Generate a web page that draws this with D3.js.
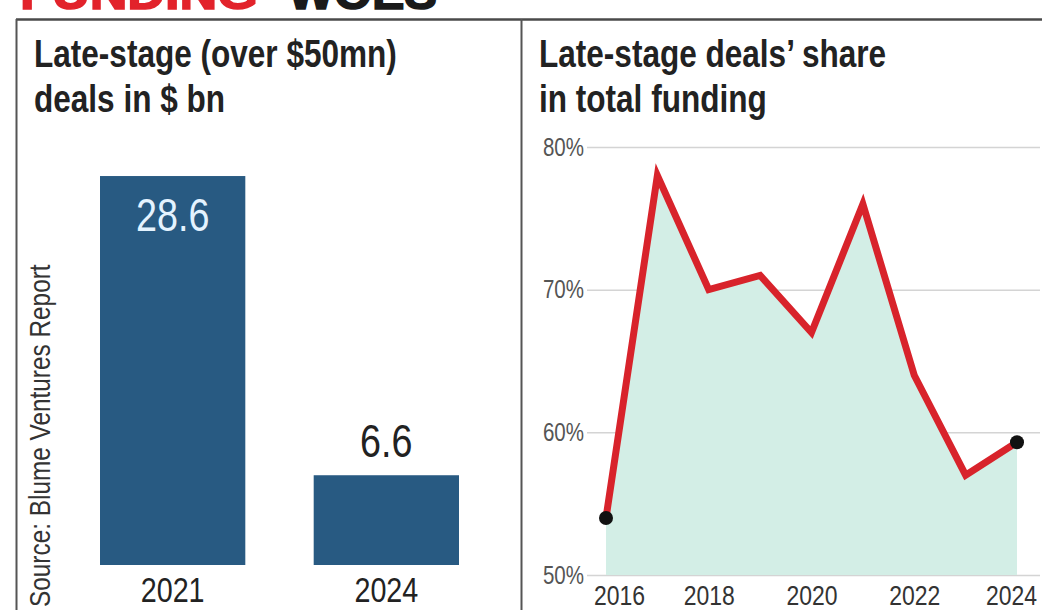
<!DOCTYPE html>
<meta charset="utf-8">
<style>
  body { margin: 0; background: #fff; }
  text { font-family: "Liberation Sans", Arial, sans-serif; }
  .title { font-weight: bold; font-size: 38px; fill: #222; }
  .grid line { stroke: #d4d4d4; stroke-width: 1.5px; }
</style>
<svg width="1048" height="610"></svg>
<script src="https://d3js.org/d3.v7.min.js"></script>
<script>
  // bar panel data
  var barYears = ["2021", "2024"];
  var barValues = [28.6, 6.6];

  // line panel data
  var shareYears = [2016, 2017, 2018, 2019, 2020, 2021, 2022, 2023, 2024];
  var shareValues = [54, 78, 70, 71, 67, 76, 64, 57, 59.3];
  var shareTicks = [50, 60, 70, 80];
  var yearTicks = [2016, 2018, 2020, 2022, 2024];

  var svg = d3.select("svg");

  // the newspaper font is condensed; squeeze glyphs horizontally
  function condense(sel, k) {
    sel.each(function () {
      var w = this.getComputedTextLength();
      d3.select(this).attr("textLength", w * k).attr("lengthAdjust", "spacingAndGlyphs");
    });
  }

  // header, cut off at the top of the picture
  svg.append("text")
    .attr("x", 20).attr("y", 9)
    .attr("fill", "#e2232b")
    .attr("stroke", "#e2232b").attr("stroke-width", 1.5)
    .attr("textLength", 238).attr("lengthAdjust", "spacingAndGlyphs")
    .style("font-weight", "bold").style("font-size", "46px")
    .text("FUNDING");
  svg.append("text")
    .attr("x", 288).attr("y", 9)
    .attr("fill", "#1a1a1a")
    .attr("stroke", "#1a1a1a").attr("stroke-width", 1.5)
    .attr("textLength", 149).attr("lengthAdjust", "spacingAndGlyphs")
    .style("font-weight", "bold").style("font-size", "46px")
    .text("WOES");

  // frame
  svg.append("line").attr("x1", 16).attr("x2", 1042).attr("y1", 19.5).attr("y2", 19.5)
    .attr("stroke", "#4a4a4a").attr("stroke-width", 2.5);
  svg.append("line").attr("x1", 16.5).attr("x2", 16.5).attr("y1", 19).attr("y2", 610)
    .attr("stroke", "#555").attr("stroke-width", 2);
  svg.append("line").attr("x1", 521.5).attr("x2", 521.5).attr("y1", 19).attr("y2", 610)
    .attr("stroke", "#555").attr("stroke-width", 2);

  // titles
  function title(x, lines) {
    lines.forEach(function (s, i) {
      svg.append("text").attr("class", "title")
        .attr("x", x).attr("y", 67 + i * 45).text(s)
        .call(condense, 0.83);
    });
  }
  title(34, ["Late-stage (over $50mn)", "deals in $ bn"]);
  title(539, ["Late-stage deals\u2019 share", "in total funding"]);

  // ---- bar chart ----
  var xb = d3.scaleBand().domain(barYears).range([100, 459]).paddingInner(0.32).paddingOuter(0);
  var yb = d3.scaleLinear().domain([0, 30]).range([565, 157]);

  svg.append("g").selectAll("rect")
    .data(barValues)
    .enter().append("rect")
    .attr("x", function (d, i) { return xb(barYears[i]); })
    .attr("width", xb.bandwidth())
    .attr("y", function (d) { return yb(d); })
    .attr("height", function (d) { return yb(0) - yb(d); })
    .attr("fill", "#285a82");

  svg.append("g").selectAll("text")
    .data(barValues)
    .enter().append("text")
    .attr("x", function (d, i) { return xb(barYears[i]) + xb.bandwidth() / 2; })
    .attr("y", function (d) { return d > 15 ? yb(d) + 55 : yb(d) - 18; })
    .attr("text-anchor", "middle")
    .style("font-size", "46px")
    .attr("fill", function (d) { return d > 15 ? "#e4f3ff" : "#222"; })
    .text(function (d) { return d3.format(".1f")(d); })
    .call(condense, 0.82);

  var xbAxis = svg.append("g")
    .attr("transform", "translate(0,565)")
    .call(d3.axisBottom(xb).tickSize(0).tickPadding(0));
  xbAxis.select(".domain").remove();
  xbAxis.selectAll("text")
    .attr("dy", null).attr("y", 37)
    .style("font-family", "'Liberation Sans', Arial, sans-serif")
    .style("font-size", "35px").attr("fill", "#222")
    .call(condense, 0.82);

  svg.append("text")
    .attr("transform", "translate(50,607) rotate(-90)")
    .style("font-size", "29px")
    .attr("fill", "#333")
    .text("Source: Blume Ventures Report")
    .call(condense, 0.84);

  // ---- line chart ----
  var x = d3.scaleLinear().domain([2016, 2024]).range([606, 1017]);
  var y = d3.scaleLinear().domain([50, 80]).range([575, 147]);

  var grid = svg.append("g")
    .attr("class", "grid")
    .attr("transform", "translate(587,0)")
    .call(d3.axisLeft(y).tickValues(shareTicks).tickSize(-453).tickFormat(function (d) { return d + "%"; }));
  grid.select(".domain").remove();
  grid.selectAll("text")
    .attr("x", -3)
    .style("font-family", "'Liberation Sans', Arial, sans-serif")
    .style("font-size", "25px").attr("fill", "#555")
    .call(condense, 0.82);

  var pts = shareYears.map(function (yr, i) { return [yr, shareValues[i]]; });

  svg.append("path")
    .datum(pts)
    .attr("fill", "#d3eee6")
    .attr("d", d3.area()
      .x(function (d) { return x(d[0]); })
      .y0(y(50))
      .y1(function (d) { return y(d[1]); }));

  svg.append("path")
    .datum(pts)
    .attr("fill", "none")
    .attr("stroke", "#d8232b")
    .attr("stroke-width", 7)
    .attr("stroke-linejoin", "miter")
    .attr("d", d3.line()
      .x(function (d) { return x(d[0]); })
      .y(function (d) { return y(d[1]); }));

  svg.append("g").selectAll("circle")
    .data([pts[0], pts[pts.length - 1]])
    .enter().append("circle")
    .attr("cx", function (d) { return x(d[0]); })
    .attr("cy", function (d) { return y(d[1]); })
    .attr("r", 7)
    .attr("fill", "#111");

  var xAxis = svg.append("g")
    .attr("transform", "translate(0,575)")
    .call(d3.axisBottom(x).tickValues(yearTicks).tickFormat(d3.format("d")).tickSize(0).tickPadding(0));
  xAxis.select(".domain").remove();
  xAxis.selectAll("text")
    .attr("dy", null).attr("y", 30)
    .attr("dx", function (d) { return d === 2016 ? 13 : d === 2024 ? -6 : 0; })
    .style("font-family", "'Liberation Sans', Arial, sans-serif")
    .style("font-size", "28px").attr("fill", "#333")
    .call(condense, 0.82);
</script>
